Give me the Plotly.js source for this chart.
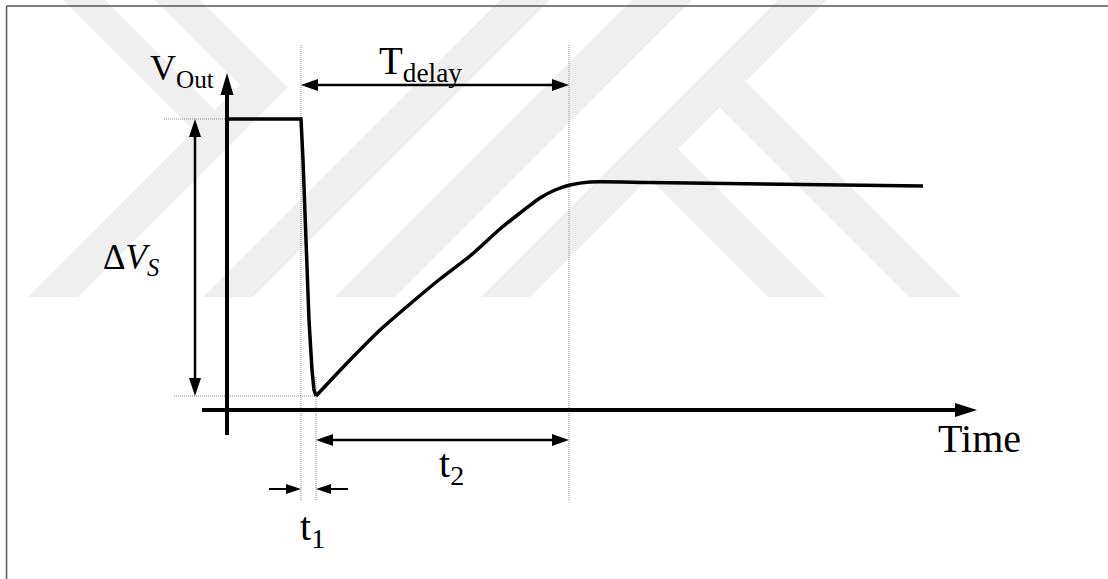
<!DOCTYPE html>
<html>
<head>
<meta charset="utf-8">
<script src="https://cdn.plot.ly/plotly-3.0.1.min.js"></script>
<style>
  html, body { margin: 0; padding: 0; background: #fff; }
  #chart { width: 1108px; height: 579px; }
</style>
</head>
<body>
<div id="chart"></div>
<script>
// Output voltage response after a load step (arbitrary units)
const time = [0, 7.4, 7.6, 8.2, 8.5, 8.7, 8.9, 10.3, 12.3, 15.3, 18.3, 21.3, 24.3, 27.3, 29.3, 31.3, 32.8, 34.3, 36.3, 42.3, 69.6];
const vout = [29.1, 29.1, 25.0, 9.0, 4.0, 2.0, 1.4, 2.9, 5.0, 8.0, 10.6, 13.1, 15.4, 18.1, 19.7, 21.2, 22.0, 22.5, 22.8, 22.75, 22.4];

// Marked instants and levels
const tStep = 7.4;     // start of the drop
const tMin = 8.9;      // bottom of the dip
const tSettle = 34.2;  // end of recovery
const vHigh = 29.1;
const vLow = 1.4;

// Axis extents
const xAxisSpan = [-2.5, 75.0];
const yAxisSpan = [-2.5, 33.7];

// Label texts
const labels = {
  vout: 'V<sub>Out</sub>',
  delay: 'T<sub>delay</sub>',
  dv: 'Δ<i>V</i><sub><i>S</i></sub>',
  time: 'Time',
  t1: 't<sub>1</sub>',
  t2: 't<sub>2</sub>'
};

// Geometry of guides and dimension rows
const guideTop = 36.6, guideBottom = -9.0, guideMinTop = 3.3;
const yDelayRow = 32.5, yT2Row = -3.0, yT1Row = -7.9, xDvCol = -3.2;
const t1Tails = [4.2, 12.1];
const hiGuideStart = -6.3, loGuideStart = -5.3;

const W = 1108, H = 579;
const traces = [];
const shapes = [];
const BLACK = '#000';

// Light background emblem, outlined in page pixels
const emblem = [
  [[155, 0], [200, 0], [287.5, 87.5], [78, 297], [28, 297], [240, 85]],
  [[63, 0], [105, 0], [215, 110], [194, 131]],
  [[500, 0], [550, 0], [253, 297], [203, 297]],
  [[632, 0], [692, 0], [395, 297], [335, 297]],
  [[778, 0], [827, 0], [530, 297], [481, 297]],
  [[745.5, 81.5], [961, 297], [909, 297], [719.5, 107.5]],
  [[678, 149], [826, 297], [768, 297], [649, 178]]
];
emblem.forEach(poly => {
  const d = poly.map((p, i) => (i ? 'L' : 'M') + (p[0] / W).toFixed(4) + ',' + (1 - p[1] / H).toFixed(4)).join(' ') + ' Z';
  shapes.push({ type: 'path', xref: 'paper', yref: 'paper', path: d, fillcolor: '#efefef', line: { width: 0 }, layer: 'below' });
});

function line(xs, ys, width, color, dash) {
  traces.push({
    x: xs, y: ys, type: 'scatter', mode: 'lines',
    line: { color: color || BLACK, width: width, dash: dash || 'solid' },
    hoverinfo: 'skip', showlegend: false
  });
}

// Filled triangular head: tip at (x, y), pointing along (dx, dy)
function head(x, y, dx, dy, len, wid) {
  const bx = -dx * len, by = -dy * len;
  const px = -dy * wid / 2, py = dx * wid / 2;
  shapes.push({
    type: 'path', xref: 'x', yref: 'y',
    xsizemode: 'pixel', ysizemode: 'pixel', xanchor: x, yanchor: y,
    path: `M0,0 L${bx + px},${by + py} L${bx - px},${by - py} Z`,
    fillcolor: BLACK, line: { width: 0 }, layer: 'above'
  });
}

const DOT = '1px,1px';
const GUIDE = '#8a8a8a';

// Dotted guides
line([tStep, tStep], [guideBottom, guideTop], 1, GUIDE, DOT);
line([tSettle, tSettle], [guideBottom, guideTop], 1, GUIDE, DOT);
line([tMin, tMin], [guideBottom, guideMinTop], 1, GUIDE, DOT);
line([hiGuideStart, 0], [vHigh, vHigh], 1, GUIDE, DOT);
line([loGuideStart, tMin], [vLow, vLow], 1, GUIDE, DOT);

// Axes with arrow tips
line([0, 0], [yAxisSpan[0], yAxisSpan[1] - 1.5], 4, BLACK);
head(0, yAxisSpan[1], 0, 1, 22, 13);
line([xAxisSpan[0], xAxisSpan[1] - 1.5], [0, 0], 4, BLACK);
head(xAxisSpan[1], 0, 1, 0, 22, 14);

// Waveform: plateau and drop, then the smooth recovery
const iMin = vout.indexOf(Math.min(...vout));
traces.push({
  x: time.slice(0, iMin + 1), y: vout.slice(0, iMin + 1), type: 'scatter', mode: 'lines',
  line: { color: BLACK, width: 3.5 },
  hoverinfo: 'skip', showlegend: false
});
traces.push({
  x: time.slice(iMin), y: vout.slice(iMin), type: 'scatter', mode: 'lines',
  line: { color: BLACK, width: 3.5, shape: 'spline', smoothing: 0.6 },
  hoverinfo: 'skip', showlegend: false
});

// ΔV_S dimension
line([xDvCol, xDvCol], [vLow + 1, vHigh - 1], 2.5, BLACK);
head(xDvCol, vHigh, 0, 1, 18, 12);
head(xDvCol, vLow, 0, -1, 18, 12);

// T_delay dimension
line([tStep + 1, tSettle - 1], [yDelayRow, yDelayRow], 2.5, BLACK);
head(tStep, yDelayRow, -1, 0, 17, 12);
head(tSettle, yDelayRow, 1, 0, 17, 12);

// t2 dimension
line([tMin + 1, tSettle - 1], [yT2Row, yT2Row], 2.5, BLACK);
head(tMin, yT2Row, -1, 0, 17, 12);
head(tSettle, yT2Row, 1, 0, 17, 12);

// t1 dimension (arrows pointing inward)
line([t1Tails[0], tStep - 1], [yT1Row, yT1Row], 2, BLACK);
head(tStep, yT1Row, 1, 0, 15, 10);
line([tMin + 1, t1Tails[1]], [yT1Row, yT1Row], 2, BLACK);
head(tMin, yT1Row, -1, 0, 15, 10);

// Frame
shapes.push({ type: 'line', xref: 'paper', yref: 'paper', x0: 0.0059, x1: 0.0059, y0: 0, y1: 0.9896, line: { color: '#555', width: 1.5 } });
shapes.push({ type: 'line', xref: 'paper', yref: 'paper', x0: 0.0059, x1: 1, y0: 0.9896, y1: 0.9896, line: { color: '#555', width: 1.5 } });

const SERIF = 'Liberation Serif';
function label(text, x, y, xanchor, size) {
  return {
    text: text, x: x, y: y, xref: 'x', yref: 'y',
    xanchor: xanchor, yanchor: 'middle', showarrow: false,
    font: { family: SERIF, size: size, color: BLACK }
  };
}

const annotations = [
  label(labels.vout, -7.9, 34.0, 'left', 36),
  label(labels.delay, 15.0, 34.7, 'left', 39),
  label(labels.dv, -12.6, 15.1, 'left', 35),
  label(labels.time, 75.2, -2.8, 'center', 40),
  label(labels.t2, 21.0, -5.6, 'left', 40),
  label(labels.t1, 7.1, -11.9, 'left', 40)
];

const layout = {
  width: W, height: H,
  margin: { l: 0, r: 0, t: 0, b: 0 },
  paper_bgcolor: '#fff', plot_bgcolor: 'rgba(0,0,0,0)',
  font: { family: SERIF },
  xaxis: { range: [-22.7, 88.1], visible: false, fixedrange: true },
  yaxis: { range: [-16.9, 41.0], visible: false, fixedrange: true },
  shapes: shapes,
  annotations: annotations,
  showlegend: false
};

Plotly.newPlot('chart', traces, layout, { staticPlot: true, displayModeBar: false });
</script>
</body>
</html>
